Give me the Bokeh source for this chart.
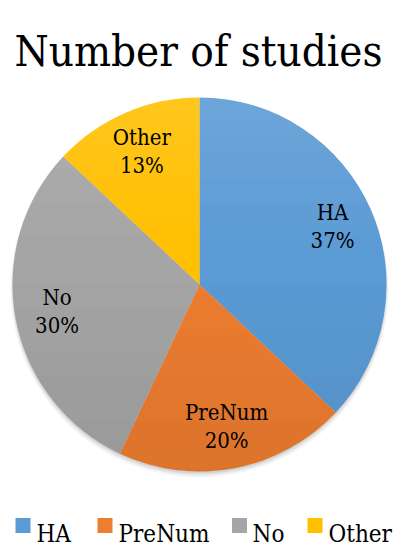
import numpy as np
from bokeh.plotting import figure
from bokeh.models import Range1d, ColumnDataSource
from bokeh.core.properties import value
from bokeh.embed import file_html
from bokeh.resources import INLINE

# ---- data ----
title_text = "Number of studies"
categories = ["HA", "PreNum", "No", "Other"]
percents = [37, 20, 30, 13]
colors = ["#5B9BD5", "#ED7D31", "#A5A5A5", "#FFC000"]

# ---- layout (page pixels, y measured from page top) ----
W, H = 405, 548
SERIF = value("DejaVu Serif Condensed")
cx, cy_page, R = 199, 284, 187
label_r = 145

def py(y_page):
    return 550 - y_page

p = figure(width=W, height=H, output_backend="svg", toolbar_location=None,
           x_range=Range1d(0, W), y_range=Range1d(550 - H, 550),
           min_border=0, outline_line_color=None)
p.axis.visible = False
p.grid.visible = False
p.background_fill_color = "white"

vals = np.array(percents, dtype=float)
frac = vals / vals.sum()
cum_end = np.cumsum(frac)
cum_start = cum_end - frac
start_angle = np.pi / 2 - cum_end * 2 * np.pi
end_angle = np.pi / 2 - cum_start * 2 * np.pi
mid = (start_angle + end_angle) / 2

src = ColumnDataSource(dict(
    cat=categories, start=start_angle, end=end_angle, color=colors,
    lx=cx + label_r * np.cos(mid), ly=py(cy_page) + label_r * np.sin(mid),
    pct=[f"{v:g}%" for v in percents],
))

# soft shadow under the pie
for off, extra, a in [(4, 2, 0.04), (3, 1, 0.06), (2, 0, 0.08)]:
    p.circle(x=[cx], y=[py(cy_page + off)], radius=R + extra,
             fill_color="black", fill_alpha=a, line_color=None)

p.wedge(x=cx, y=py(cy_page), radius=R, start_angle="start", end_angle="end",
        fill_color="color", line_color=None, source=src)

# vertical shading (lighter at top, darker at bottom), clipped to the disc
ys_page = np.arange(cy_page - R, cy_page + R) + 0.5
dy = ys_page - cy_page
half = np.sqrt(np.clip(R ** 2 - dy ** 2, 0, None))
t = (ys_page - (cy_page - R)) / (2 * R)
white_a = np.clip((0.45 - t) / 0.45, 0, 1) * 0.12
black_a = np.clip((t - 0.45) / 0.55, 0, 1) * 0.07
shade_src = ColumnDataSource(dict(
    y=py(ys_page), left=cx - half, right=cx + half,
    color=["white" if w > 0 else "black" for w in white_a],
    alpha=np.where(white_a > 0, white_a, black_a),
))
p.hbar(y="y", left="left", right="right", height=1, fill_color="color",
       fill_alpha="alpha", line_color=None, source=shade_src)

p.text(x="lx", y="ly", text="cat", source=src, text_font=SERIF,
       text_font_size="22px", text_align="center", text_baseline="middle",
       y_offset=-14, text_color="black")
p.text(x="lx", y="ly", text="pct", source=src, text_font=SERIF,
       text_font_size="22px", text_align="center", text_baseline="middle",
       y_offset=14, text_color="black")

# title
p.text(x=[198], y=[py(50)], text=[title_text], text_font=SERIF,
       text_font_size="43.5px", text_align="center", text_baseline="alphabetic",
       text_color="black")

# legend
leg_sq_x = [22.5, 104.5, 239, 314.5]
leg_tx_x = [36, 118, 252, 328]
p.rect(x=leg_sq_x, y=[py(525)] * 4, width=15, height=15, fill_color=colors,
       line_color=None)
p.text(x=leg_tx_x, y=[py(533)] * 4, text=categories, text_font=SERIF,
       text_font_size="24px", text_align="left", text_baseline="alphabetic",
       text_color="black")

open("out.html", "w").write(file_html(p, INLINE))
